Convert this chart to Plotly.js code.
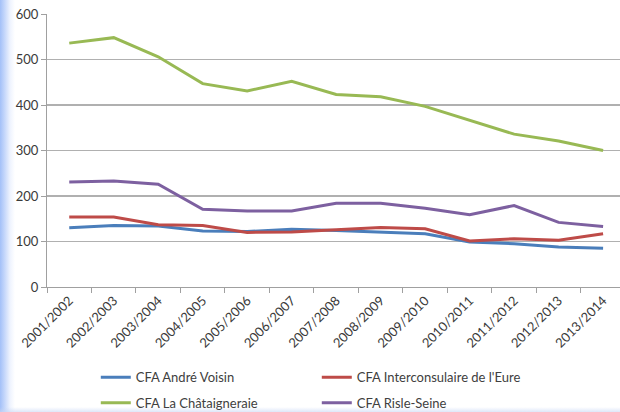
<!DOCTYPE html>
<html>
<head>
<meta charset="utf-8">
<script src="https://cdn.plot.ly/plotly-3.0.1.min.js"></script>
<style>
  html, body { margin: 0; padding: 0; }
  body {
    width: 620px; height: 412px; overflow: hidden;
    background:
      linear-gradient(to top, rgba(200,215,245,0.6) 0px, rgba(255,255,255,0) 5px),
      linear-gradient(to right, #a3c0f8 0px, #c8d9fb 5px, #eef3fe 10px, #ffffff 15px);
  }
  #chart { width: 620px; height: 412px; }
</style>
</head>
<body>
<div id="chart"></div>
<script>
const categories = ["2001/2002","2002/2003","2003/2004","2004/2005","2005/2006","2006/2007","2007/2008","2008/2009","2009/2010","2010/2011","2011/2012","2012/2013","2013/2014"];
const seriesNames = ["CFA André Voisin","CFA Interconsulaire de l'Eure","CFA La Châtaigneraie","CFA Risle-Seine"];
const voisin = [130, 135, 134, 123, 122, 127, 124, 121, 117, 99, 95, 88, 85];
const interconsulaire = [154, 154, 137, 135, 120, 121, 126, 131, 128, 101, 106, 103, 117];
const chataigneraie = [536, 548, 506, 447, 431, 452, 423, 418, 397, 366, 336, 321, 300];
const risle = [231, 233, 226, 171, 167, 167, 184, 184, 173, 159, 179, 142, 133];
const colors = ["#4A7EBB", "#BE4B48", "#98B954", "#7D60A0"];
const legendRows = ["legend", "legend", "legend2", "legend2"];

const allSeries = [voisin, interconsulaire, chataigneraie, risle];
const traces = allSeries.map((vals, i) => ({
  type: "scatter",
  mode: "lines",
  x: categories,
  y: vals,
  name: seriesNames[i],
  legend: legendRows[i],
  line: { color: colors[i], width: 3 },
  hoverinfo: "skip"
}));

const legendBase = {
  orientation: "h",
  xref: "container",
  yref: "container",
  x: 0.1545,
  xanchor: "left",
  yanchor: "top",
  entrywidth: 176,
  entrywidthmode: "pixels",
  bgcolor: "rgba(0,0,0,0)",
  font: { family: "Lato, sans-serif", size: 13, color: "#404040" }
};

const layout = {
  width: 620,
  height: 412,
  margin: { l: 47, r: 0, t: 14, b: 125, pad: 0 },
  paper_bgcolor: "rgba(0,0,0,0)",
  plot_bgcolor: "rgba(0,0,0,0)",
  font: { family: "Lato, 'Open Sans', sans-serif", size: 13, color: "#404040" },
  showlegend: true,
  xaxis: {
    type: "category",
    range: [-0.5, 12.38],
    tickangle: -45,
    tickson: "boundaries",
    ticks: "outside",
    ticklen: 5,
    tickcolor: "#a0a0a0",
    showgrid: false,
    showline: true,
    linecolor: "#a0a0a0",
    linewidth: 1,
    zeroline: false,
    automargin: false,
    tickfont: { family: "Lato, sans-serif", size: 13, color: "#3a3a3a" },
    fixedrange: true
  },
  yaxis: {
    range: [0, 600],
    dtick: 100,
    tick0: 0,
    ticks: "outside",
    ticklen: 5,
    tickcolor: "#a0a0a0",
    showgrid: true,
    gridcolor: "#b0b0b0",
    gridwidth: 1.5,
    showline: true,
    linecolor: "#a0a0a0",
    linewidth: 1,
    zeroline: false,
    automargin: false,
    tickfont: { family: "Lato, sans-serif", size: 13, color: "#3a3a3a" },
    fixedrange: true
  },
  legend: Object.assign({}, legendBase, { y: 0.1204 }),
  legend2: Object.assign({}, legendBase, { y: 0.059 })
};

Plotly.newPlot("chart", traces, layout, { displayModeBar: false, staticPlot: true });
</script>
</body>
</html>
